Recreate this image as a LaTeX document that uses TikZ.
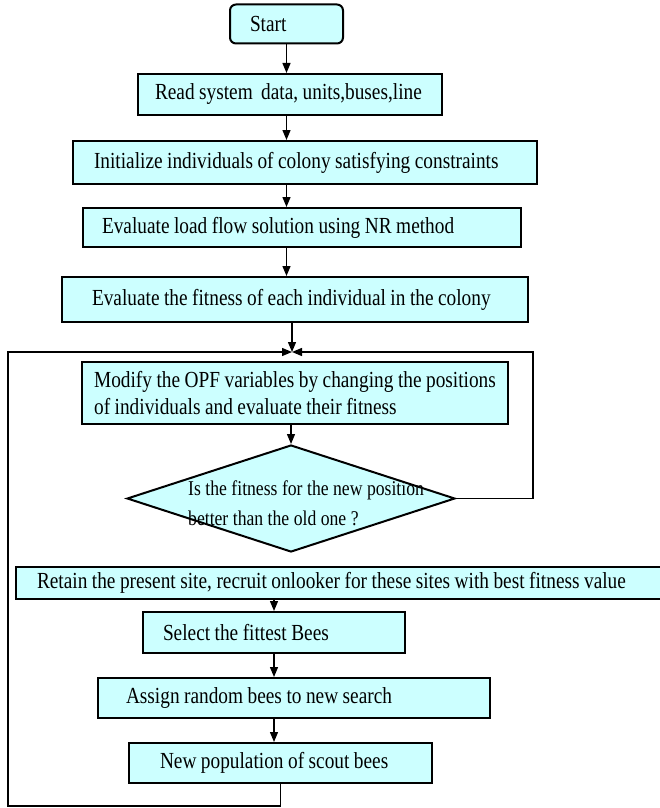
\documentclass[tikz,border=0pt]{standalone}
\usepackage{fontspec}
\setmainfont{Liberation Serif}[FakeStretch=0.84]
\usetikzlibrary{arrows.meta,shapes.geometric}
\definecolor{boxcyan}{RGB}{204,255,255}
\tikzset{
  tightwords/.style={execute at begin node={\spaceskip=4.5pt\relax}},
  procbox/.style={draw, fill=boxcyan, line width=2pt, align=left, inner ysep=0pt,
    font=\fontsize{23}{27}\selectfont, tightwords},
  flow/.style={line width=1.3pt, -{Triangle[length=10pt,width=8pt]}},
}
\begin{document}
\begin{tikzpicture}[x=1pt,y=-1pt]
    \useasboundingbox (0,0) rectangle (660,808);
    \node[procbox, rounded corners=6pt, text width=73pt, inner xsep=20pt, minimum height=39pt] (start) at (286.5,24) {Start};
    \node[procbox, text width=270pt, inner xsep=17pt, minimum height=41pt] (read) at (290,94.5) {Read system\, data, units,buses,line};
    \node[procbox, text width=422pt, inner xsep=21pt, minimum height=43pt] (init) at (305,162.5) {Initialize individuals of colony satisfying constraints};
    \node[procbox, text width=400pt, inner xsep=19pt, minimum height=39pt] (load) at (302,227.5) {Evaluate load flow solution using NR method};
    \node[procbox, text width=406pt, inner xsep=30pt, minimum height=45pt] (fit) at (295,299.5) {Evaluate the fitness of each individual in the colony};
    \node[procbox, minimum width=426pt, minimum height=62pt] (modify) at (295,393) {Modify the OPF variables by changing the positions\\of individuals and evaluate their fitness};
    \node[draw, fill=boxcyan, line width=2pt, diamond, aspect=3.07, inner sep=0pt,
      minimum width=328pt, minimum height=107pt] (dec) at (291,498.5) {};
    \node[align=left, anchor=west, inner sep=0pt, font=\fontsize{21}{30}\selectfont, tightwords] (dectext) at (188,503) {Is the fitness for the new position\\better than the old one ?};
    \node[procbox, text width=622pt, inner xsep=21pt, minimum height=32pt] (retain) at (348,583) {Retain the present site, recruit onlooker for these sites with best fitness value};
    \node[procbox, text width=222pt, inner xsep=20pt, minimum height=41pt] (sel) at (274,632.5) {Select the fittest Bees};
    \node[procbox, text width=336pt, inner xsep=28pt, minimum height=40pt] (assign) at (294,698) {Assign random bees to new search};
    \node[procbox, text width=241pt, inner xsep=31pt, minimum height=40pt] (newpop) at (280.5,763) {New population of scout bees};
    \coordinate (join) at (292,352);
    \coordinate (rloop) at (533,352);
    \coordinate (lbot) at (8,806);
    \draw[flow] (start) -- (start |- read.north);
    \draw[flow] (read.south -| start) -- (init.north -| start);
    \draw[flow] (init.south -| start) -- (load.north -| start);
    \draw[flow] (load.south -| start) -- (fit.north -| start);
    \draw[flow] (fit.south -| join) -- (join);
    \draw[flow] (modify.south -| dec.north) -- (dec.north);
    \draw[flow] (dec.east) -| (rloop) -- (join);
    \draw[flow] (newpop.south) |- (lbot) |- (join);
    \draw[flow] (retain.south -| sel.north) -- (sel.north);
    \draw[flow] (sel.south) -- (sel.south |- assign.north);
    \draw[flow] (assign.south -| sel.south) -- (newpop.north -| sel.south);
\end{tikzpicture}
\end{document}
